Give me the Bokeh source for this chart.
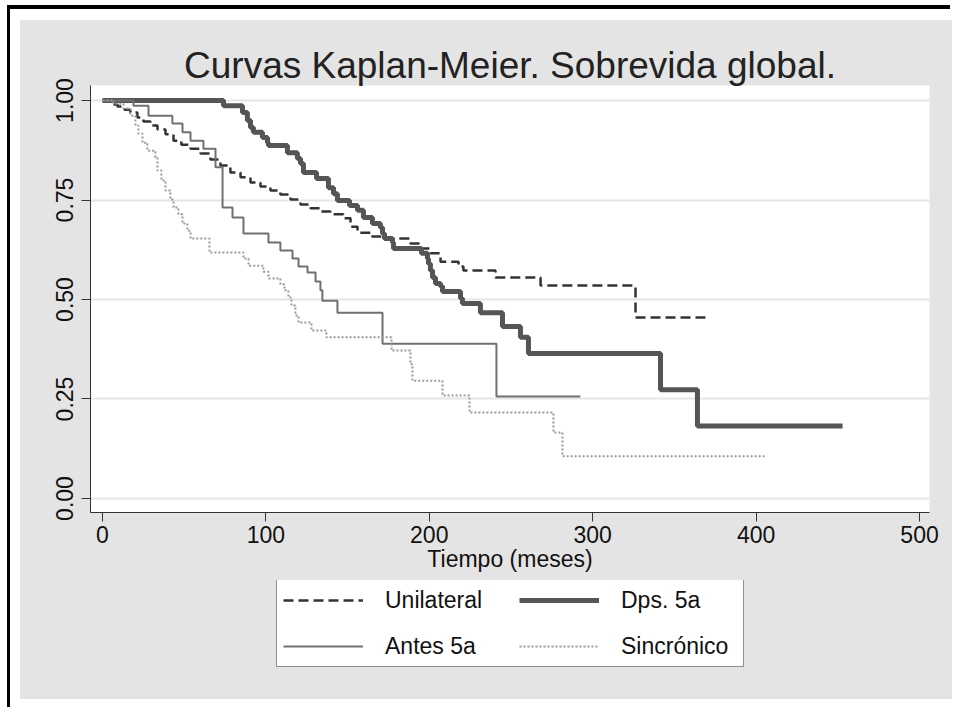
from bokeh.plotting import figure
from bokeh.models import (Range1d, FixedTicker, NumeralTickFormatter, Legend, LegendItem, Spacer)
from bokeh.layouts import column, row
from bokeh.embed import file_html
from bokeh.resources import INLINE

title_text = "Curvas Kaplan-Meier. Sobrevida global."
x_label = "Tiempo (meses)"
x_ticks = [0, 100, 200, 300, 400, 500]
y_ticks = [0.0, 0.25, 0.5, 0.75, 1.0]

# Unilateral: event times (months) and survival after each event
uni_t = [4.9, 9.2, 13.5, 17.1, 21.4, 25.1, 29.4, 33.7, 38.6, 43.5, 48.3, 53.9, 60.0, 66.1,
         72.2, 78.3, 84.5, 90.6, 96.7, 102.8, 108.9, 115.1, 121.2, 127.3, 133.4, 139.5,
         147.5, 151.8, 156.1, 164.0, 172.0, 188.5, 194.6, 200.7, 206.9, 217.9, 220.9,
         240.5, 268.1, 326.2]
uni_s = [0.990, 0.985, 0.977, 0.970, 0.957, 0.947, 0.937, 0.927, 0.915, 0.899, 0.889, 0.879,
         0.867, 0.852, 0.837, 0.819, 0.807, 0.794, 0.784, 0.774, 0.764, 0.751, 0.739, 0.729,
         0.721, 0.714, 0.704, 0.683, 0.668, 0.658, 0.653, 0.641, 0.628, 0.616, 0.595, 0.583,
         0.573, 0.555, 0.535, 0.455]
uni_end = 369.0

# Dps. 5a
dps_t = [74.1, 85.7, 88.7, 90.6, 92.4, 97.9, 101.0, 101.6, 113.2, 119.3, 121.2, 123.0, 131.0,
         138.3, 141.4, 143.8, 151.2, 156.1, 159.7, 165.2, 170.1, 171.4, 172.6, 177.5, 178.1,
         195.2, 198.9, 199.5, 200.7, 202.0, 203.8, 206.9, 208.1, 219.1, 220.3, 231.3, 244.8,
         255.8, 260.7, 341.5, 364.1]
dps_s = [0.987, 0.970, 0.950, 0.932, 0.920, 0.907, 0.894, 0.887, 0.869, 0.854, 0.842, 0.819,
         0.804, 0.781, 0.766, 0.749, 0.736, 0.724, 0.706, 0.691, 0.681, 0.666, 0.653, 0.643,
         0.628, 0.616, 0.603, 0.590, 0.573, 0.555, 0.540, 0.533, 0.520, 0.503, 0.490, 0.467,
         0.432, 0.405, 0.364, 0.273, 0.182]
dps_end = 452.9

# Antes 5a
ant_t = [19.0, 28.2, 42.8, 49.0, 53.9, 61.8, 69.2, 73.5, 79.6, 86.3, 101.6, 108.9, 116.3,
         120.0, 125.5, 130.4, 133.4, 134.6, 143.8, 171.4, 241.1]
ant_s = [0.987, 0.962, 0.942, 0.920, 0.899, 0.879, 0.832, 0.731, 0.706, 0.666, 0.643, 0.623,
         0.603, 0.583, 0.568, 0.545, 0.523, 0.497, 0.467, 0.389, 0.256]
ant_end = 292.5

# Sincrónico
sin_t = [6.7, 12.9, 17.1, 20.2, 22.0, 24.5, 27.5, 32.4, 33.7, 36.1, 38.6, 41.6, 43.5, 46.5,
         49.0, 52.0, 53.9, 65.5, 86.3, 89.4, 98.5, 101.6, 108.9, 111.4, 113.8, 115.7, 118.1,
         120.0, 127.9, 137.1, 176.9, 188.5, 189.7, 208.1, 224.6, 276.0, 281.5]
sin_s = [0.992, 0.980, 0.962, 0.937, 0.917, 0.894, 0.874, 0.857, 0.824, 0.799, 0.774, 0.751,
         0.731, 0.714, 0.691, 0.673, 0.653, 0.618, 0.603, 0.585, 0.570, 0.553, 0.538, 0.523,
         0.505, 0.485, 0.460, 0.442, 0.422, 0.405, 0.372, 0.337, 0.296, 0.259, 0.216, 0.166,
         0.106]
sin_end = 405.8

labels = ["Unilateral", "Dps. 5a", "Antes 5a", "Sincrónico"]

FONT = "Liberation Sans"
GRAY = "#e4e4e4"

STYLES = [
    dict(line_color="#333333", line_width=2.5, line_dash="10 5"),
    dict(line_color="#555555", line_width=5),
    dict(line_color="#707070", line_width=2),
    dict(line_color="#9a9a9a", line_width=2, line_dash="2 2"),
]


def km(ts, ss, end):
    xs = [0.0] + list(ts) + [end]
    ys = [1.0] + list(ss) + [ss[-1]]
    return xs, ys


p = figure(width=932, height=560, output_backend="svg", toolbar_location=None,
           x_range=Range1d(-7.3, 506.1), y_range=Range1d(-0.0352, 1.0377),
           min_border_left=70, min_border_right=23, min_border_top=65, min_border_bottom=68,
           border_fill_color=GRAY, background_fill_color="white", outline_line_color=None)

p.title.text = title_text
p.title.align = "center"
p.title.text_font = FONT
p.title.text_font_size = "37px"
p.title.text_font_style = "normal"
p.title.text_color = "#222222"
p.title.standoff = 0

xa = p.xaxis[0]
xa.ticker = FixedTicker(ticks=x_ticks)
xa.axis_label = x_label
ya = p.yaxis[0]
ya.ticker = FixedTicker(ticks=y_ticks)
ya.formatter = NumeralTickFormatter(format="0.00")
ya.major_label_orientation = "vertical"
for ax in (xa, ya):
    ax.axis_line_color = "#333333"
    ax.major_tick_line_color = "#333333"
    ax.major_tick_out = 9
    ax.major_tick_in = 0
    ax.minor_tick_line_color = None
    ax.major_label_text_font = FONT
    ax.major_label_text_font_size = "23px"
    ax.major_label_text_color = "#111111"
    ax.axis_label_text_font = FONT
    ax.axis_label_text_font_size = "23px"
    ax.axis_label_text_font_style = "normal"
    ax.axis_label_text_color = "#111111"
xa.major_label_standoff = 4
xa.axis_label_standoff = 0
ya.major_label_standoff = 8

p.xgrid.visible = False
p.ygrid.ticker = FixedTicker(ticks=y_ticks)
p.ygrid.grid_line_color = "#e6e6e6"
p.ygrid.grid_line_width = 2

series = [(uni_t, uni_s, uni_end), (dps_t, dps_s, dps_end),
          (ant_t, ant_s, ant_end), (sin_t, sin_s, sin_end)]
for (ts, ss, end), st in zip(series, STYLES):
    x, y = km(ts, ss, end)
    p.step(x, y, mode="after", **st)

# Legend panel: a second figure directly below, sharing the grey background
pl = figure(width=932, height=119, output_backend="svg", toolbar_location=None,
            x_range=Range1d(0, 1), y_range=Range1d(0, 1),
            min_border_left=0, min_border_right=0, min_border_top=0, min_border_bottom=0,
            border_fill_color=GRAY, background_fill_color=GRAY, outline_line_color=None)
pl.axis.visible = False
pl.grid.visible = False
key_renderers = [pl.line([-5, -4], [-5, -5], **st) for st in STYLES]

legend = Legend(items=[LegendItem(label=lab, renderers=[r]) for lab, r in zip(labels, key_renderers)],
                orientation="horizontal", ncols=2, location=(186, 32),
                glyph_width=80, glyph_height=20, label_standoff=22,
                label_width=116, label_height=28, spacing=18, padding=6, margin=0,
                label_text_font=FONT, label_text_font_size="23px", label_text_color="#111111",
                border_line_color="#222222", border_line_width=1,
                background_fill_color="white", background_fill_alpha=1.0)
pl.add_layout(legend)

top_pad = Spacer(width=950, height=5)
top_line = row(Spacer(width=7, height=4), Spacer(width=943, height=4, styles={"background-color": "black"}))
left_line = Spacer(width=3, height=698, styles={"background-color": "black"})
panel = column(p, pl, styles={"background-color": GRAY})
body = row(Spacer(width=7, height=698), left_line, Spacer(width=10, height=698),
           column(Spacer(width=932, height=11), panel))
layout = column(top_pad, top_line, body)

open("out.html", "w").write(file_html(layout, INLINE))
